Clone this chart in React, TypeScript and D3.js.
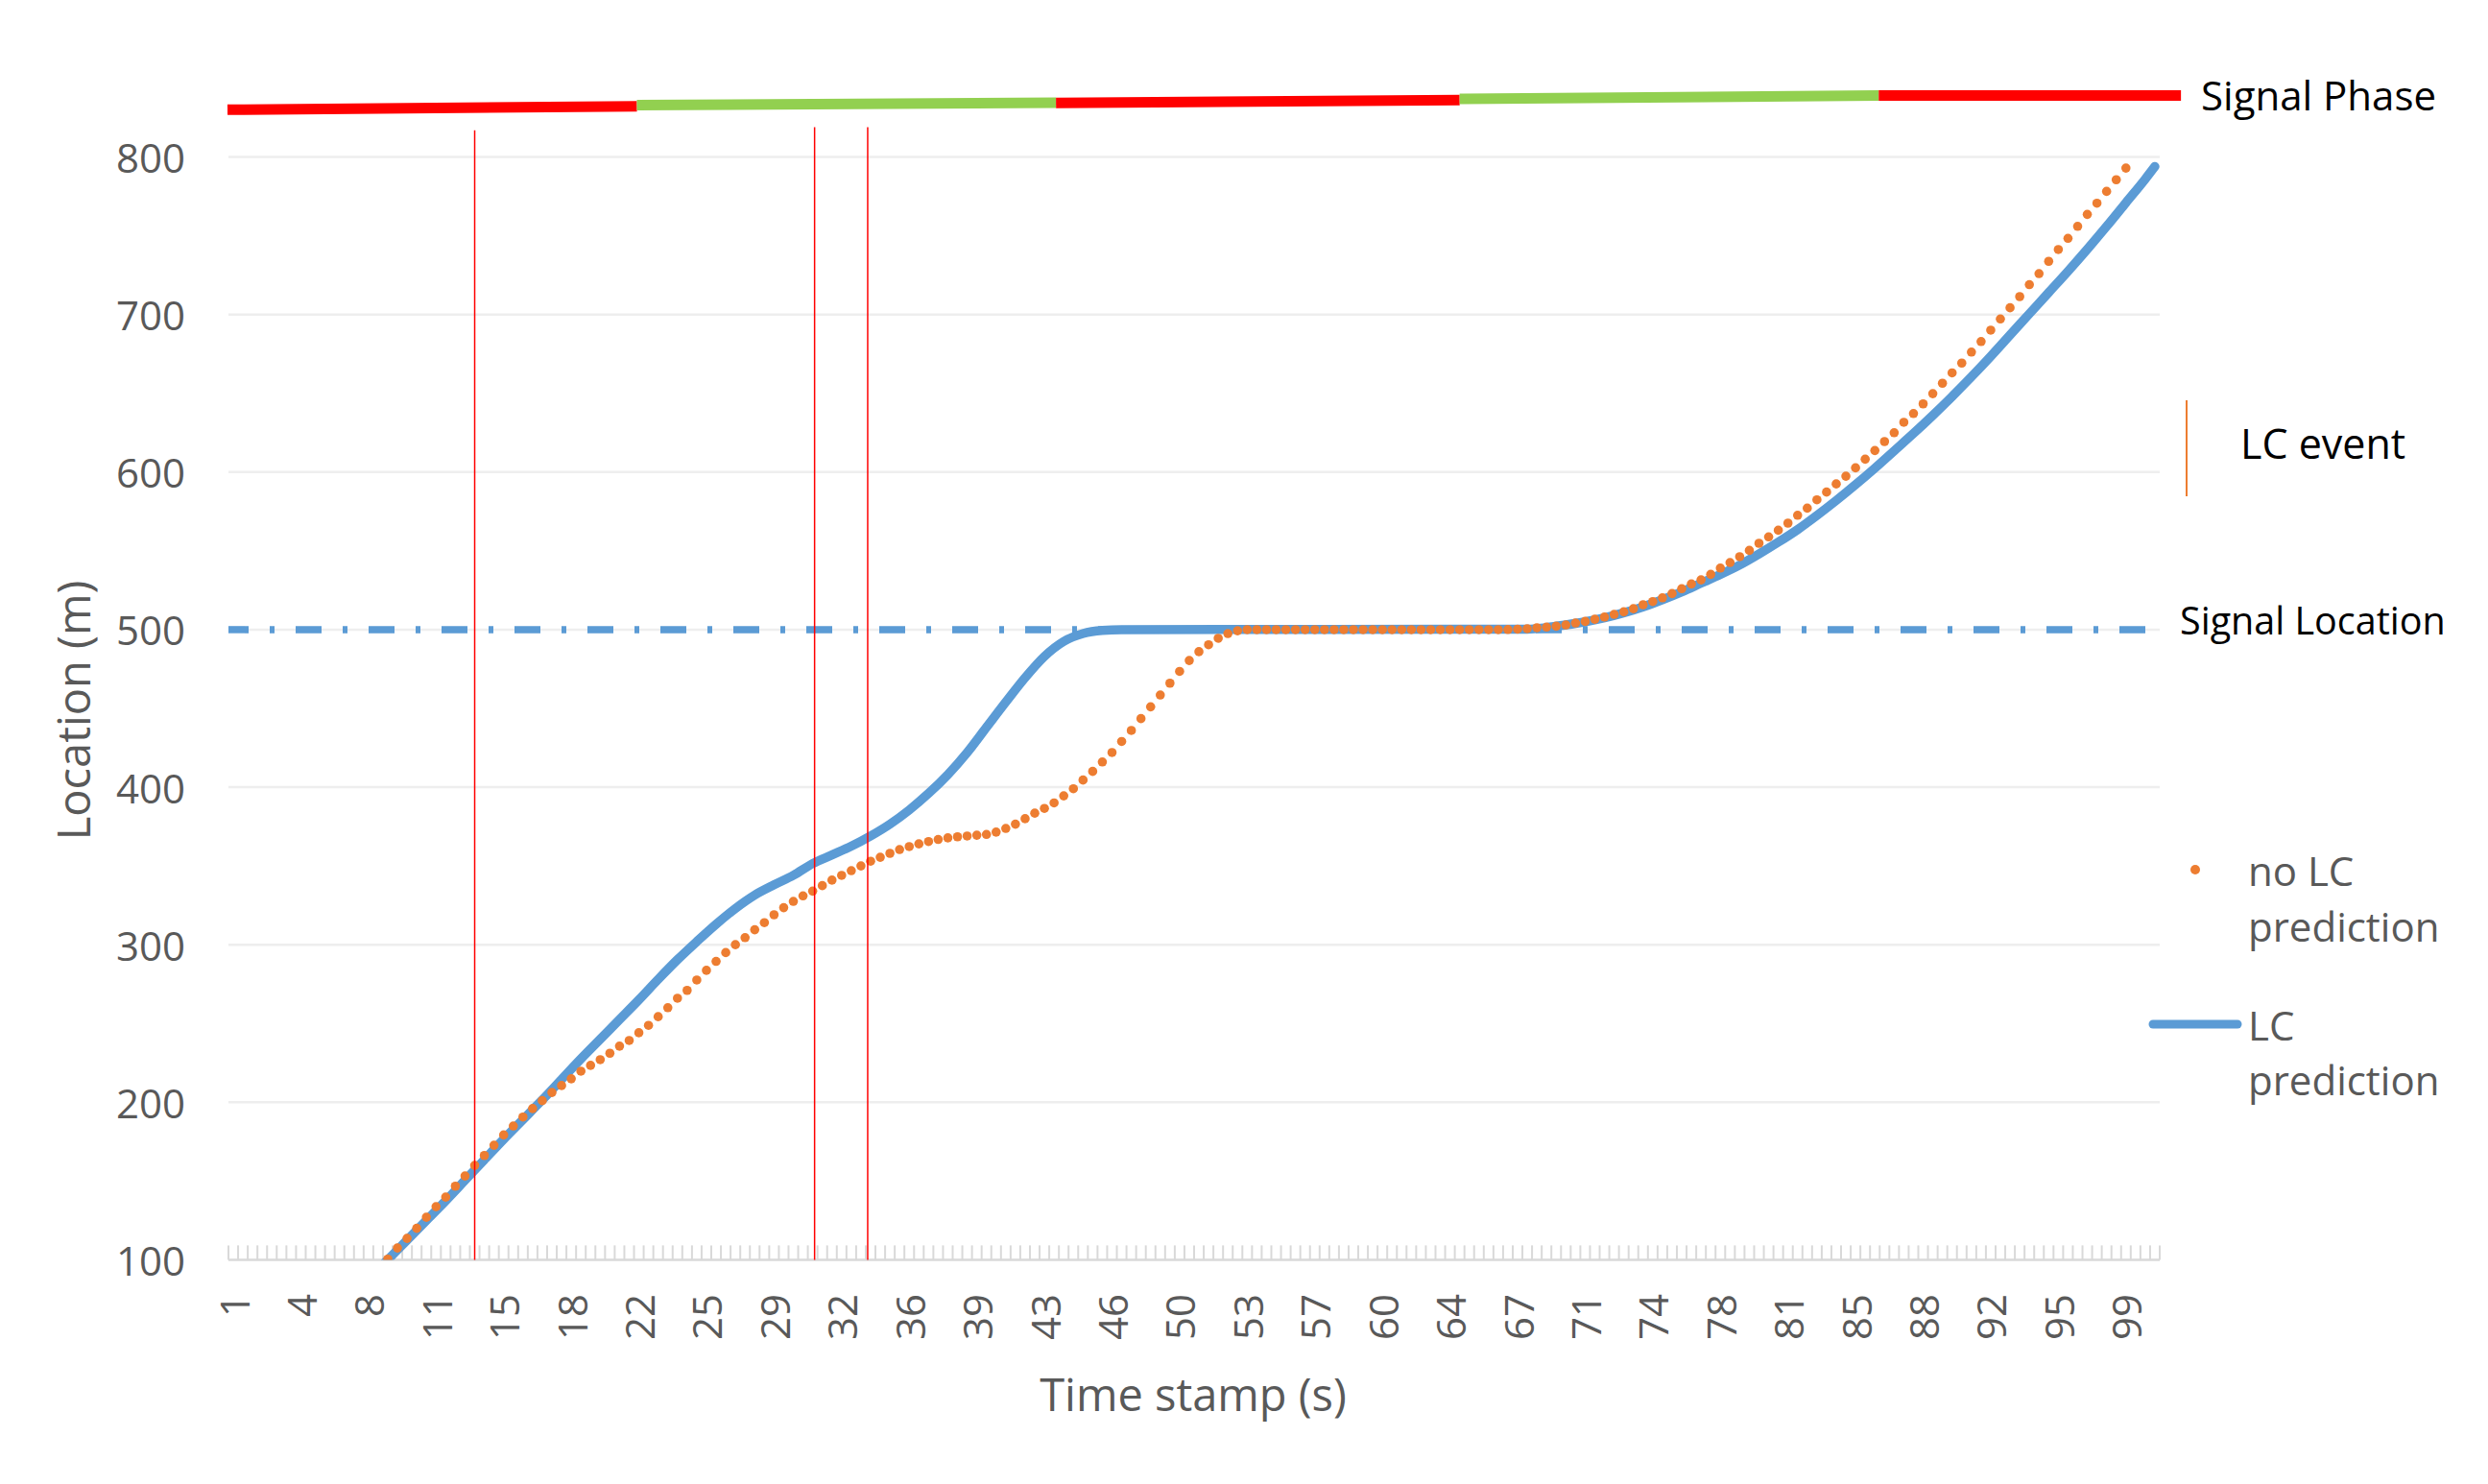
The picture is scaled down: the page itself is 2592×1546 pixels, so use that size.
import React from "react";
import * as d3 from "d3";

// ---------- data ----------
const timeStamps: number[] = d3.range(1, 101, 0.5); // category axis: 1 .. 100.5 s
const xTickLabels = ["1","4","8","11","15","18","22","25","29","32","36","39","43","46","50","53","57","60","64","67","71","74","78","81","85","88","92","95","99"];
const xLabelEvery = 7;
const yTicks = [100, 200, 300, 400, 500, 600, 700, 800];

const noLcStart = 9;
const noLcPrediction = [
  100.4,107.5,113.6,120,127,133.7,139.8,146.7,153.2,159.9,
  166.2,172.7,179.2,184.9,190.6,196,201,206.2,210.6,214.9,
  219.7,223.4,227,231.1,235.6,239.2,244.1,248.8,254.3,260,
  266,271,277.6,283.7,289.4,295,300,304.5,309.5,314,
  319,323.5,327.5,331,334,337.5,341,344,347,350,
  353,355.5,358,360.4,362.3,364,365.5,366.8,367.8,368.5,
  369,369.5,370,371.5,373.8,376.5,380,383.5,386.5,390,
  394.5,399,404.5,410,416,422,429,436,443.5,451,
  458.5,466,473.5,480.4,486,490.4,494.5,497.5,499.3,500,
  500,500,500,500,500,500,500,500,500,500,500,500,500,
  500,500,500,500,500,500,500,500,500,500,500,500,500,
  500.1,500.3,500.6,501.2,501.6,502.2,503,504.2,505.2,506.6,
  508,509.7,511.3,513.3,515.8,517.8,520.2,522.9,526,529,
  531.6,535.1,539.1,542.6,546.3,550.3,554.8,558.9,563.1,567.6,
  572.6,577.1,582.4,587.3,592.5,597.4,602.7,608.2,613.7,619.4,
  625,631.6,637.2,643.3,649.8,656.4,663,669.2,676.2,682.9,
  690.1,697.2,704.3,711.4,719,726,733.8,741.3,748.4,756,
  763.6,770.7,778.2,785.6,793
];

const lcPrediction: [number, number][] = [
  [8.5,94],[9,100],[10,112.5],[11,125],[12,137.5],[13,150.5],[14,163.5],[15,176.5],[16,189],[17,201.5],
  [18,214.5],[19,227.5],[20,240],[21,252.5],[22,265],[23,278],[24,290.5],[25,302],[26,313],[27,323],
  [28,331.5],[29,338],[30,344],[31,351.5],[32,357],[33,362.5],[34,369],[35,376.5],[36,385.5],[37,396],
  [38,408],[39,422],[40,438],[41,454],[42,469.5],[43,483],[44,492.5],[45,497.5],[46,499.5],[47,500],
  [68,500.3],[69,501.3],[70,503],[71,505],[72,507.5],[73,510.7],[74,514.5],[75,519],[76,524],[77,529.5],
  [78,535],[79,541],[80,548],[81,555.5],[82,563.5],[83,572.5],[84,582],[85,592],[86,602.5],[87,613.5],
  [88,624.5],[89,636],[90,648],[91,660.5],[92,673.5],[93,687],[94,700.5],[95,714],[96,727.5],[97,741.5],
  [98,756],[99,771],[100,786],[100.5,794]
];

const signalLocation = 500;
const phaseBounds = [0.7, 21.9, 43.6, 64.5, 86.2, 101.85];
const phaseStates = ["red", "green", "red", "green", "red"];
const phaseLevels: [number, number][] = [[830, 832.2], [832.9, 834.5], [834.4, 836.2], [836.9, 839.1], [839, 839]];

const lcEventTimes = [13.5, 31.1, 33.85];
const lcEventTops = [817, 819, 819];

// ---------- style ----------
const FONT = "'Open Sans', 'DejaVu Sans', sans-serif";
const GRAY = "#595959";
const BLUE = "#5B9BD5";
const ORANGE = "#ED7D31";
const phaseColor: Record<string, string> = { red: "#FF0000", green: "#92D050" };

export default function App() {
  const W = 2592, H = 1546;
  const x = d3.scaleLinear().domain([0.75, 100.75]).range([238, 2250]);
  const y = d3.scaleLinear().domain([100, 800]).range([1312.4, 163.6]);
  const bandEdges = d3.range(0, timeStamps.length + 1).map(i => timeStamps[0] - 0.25 + i * 0.5);

  const lineGen = d3.line<[number, number]>().x(d => x(d[0])).y(d => y(d[1])).curve(d3.curveMonotoneX);
  const [x0, x1] = x.range();
  const yBottom = y(100);

  return (
    <svg width={W} height={H} viewBox={`0 0 ${W} ${H}`} style={{ position: "absolute", left: 0, top: 0, display: "block", background: "#fff" }} fontFamily={FONT}>
      <defs>
        <clipPath id="plotClip">
          <rect x={x0 - 10} y={0} width={x1 - x0 + 20} height={yBottom} />
        </clipPath>
      </defs>
      {/* gridlines */}
      {yTicks.filter(v => v > 100).map(v => (
        <line key={v} x1={x0} x2={x1} y1={y(v)} y2={y(v)} stroke="#EEEEEE" strokeWidth={2.5} />
      ))}
      {/* x axis */}
      <line x1={x0} x2={x1} y1={yBottom} y2={yBottom} stroke="#D9D9D9" strokeWidth={2.5} />
      {bandEdges.map((t, i) => (
        <line key={i} x1={x(t)} x2={x(t)} y1={yBottom} y2={yBottom - 15} stroke="#D9D9D9" strokeWidth={2} />
      ))}
      {xTickLabels.map((lab, k) => {
        const t = timeStamps[k * xLabelEvery];
        return (
          <text key={lab + k} transform={`translate(${x(t)},1348) rotate(-90)`} textAnchor="end" dominantBaseline="central" fontSize={42} fill={GRAY}>{lab}</text>
        );
      })}
      {/* y labels */}
      {yTicks.map(v => (
        <text key={v} x={193} y={y(v)} textAnchor="end" dominantBaseline="central" fontSize={42} fill={GRAY}>{v}</text>
      ))}
      {/* axis titles */}
      <text transform="translate(76,740) rotate(-90)" textAnchor="middle" dominantBaseline="central" fontSize={47} fill={GRAY}>Location (m)</text>
      <text x={1243} y={1452} textAnchor="middle" dominantBaseline="central" fontSize={47} fill={GRAY}>Time stamp (s)</text>

      {/* signal location */}
      <line x1={x0} x2={x1} y1={y(signalLocation)} y2={y(signalLocation)} stroke={BLUE} strokeWidth={7.5} strokeDasharray="27,22,5,22" strokeDashoffset={6} />

      <g clipPath="url(#plotClip)">
        <path d={lineGen(lcPrediction) || ""} fill="none" stroke={BLUE} strokeWidth={9.5} strokeLinejoin="round" strokeLinecap="round" />
        {noLcPrediction.map((v, i) => (
          <circle key={i} cx={x(noLcStart + i * 0.5)} cy={y(v)} r={4.8} fill={ORANGE} />
        ))}
      </g>

      {/* LC events */}
      {lcEventTimes.map((t, i) => (
        <line key={i} x1={x(t)} x2={x(t)} y1={y(lcEventTops[i])} y2={yBottom} stroke="#FF0000" strokeWidth={1.5} />
      ))}

      {/* signal phase */}
      {phaseStates.map((s, i) => (
        <line key={i} x1={x(phaseBounds[i])} x2={x(phaseBounds[i + 1])} y1={y(phaseLevels[i][0])} y2={y(phaseLevels[i][1])} stroke={phaseColor[s]} strokeWidth={11} />
      ))}

      {/* right-side labels / legend */}
      <text x={2293} y={98} dominantBaseline="central" fontSize={42} fill="#000">Signal Phase</text>
      <line x1={2278} x2={2278} y1={417} y2={517} stroke={ORANGE} strokeWidth={2} />
      <text x={2334} y={461} dominantBaseline="central" fontSize={43} fill="#000">LC event</text>
      <text x={2271} y={646} dominantBaseline="central" fontSize={39.5} fill="#000">Signal Location</text>

      <circle cx={2287} cy={906} r={5} fill={ORANGE} />
      <text x={2342} y={906} dominantBaseline="central" fontSize={42} fill={GRAY}>no LC</text>
      <text x={2342} y={964} dominantBaseline="central" fontSize={42} fill={GRAY}>prediction</text>
      <line x1={2243} x2={2331} y1={1067} y2={1067} stroke={BLUE} strokeWidth={9} strokeLinecap="round" />
      <text x={2342} y={1067} dominantBaseline="central" fontSize={42} fill={GRAY}>LC</text>
      <text x={2342} y={1124} dominantBaseline="central" fontSize={42} fill={GRAY}>prediction</text>
    </svg>
  );
}
